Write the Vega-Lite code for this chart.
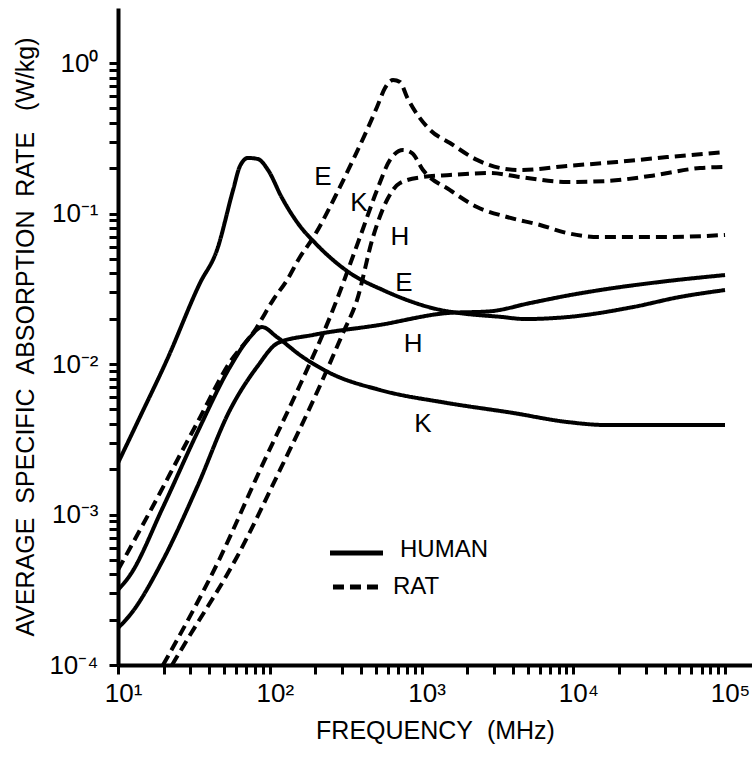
{
  "$schema": "https://vega.github.io/schema/vega-lite/v6.json",
  "width": 634,
  "height": 657,
  "autosize": {"type": "none"},
  "padding": {"left": 118, "top": 8, "right": 0, "bottom": 92},
  "background": "white",
  "config": {
    "view": {"stroke": null},
    "axis": {
      "grid": false,
      "ticks": true,
      "domainColor": "black",
      "domainWidth": 4,
      "tickColor": "black",
      "tickOpacity": 1,
      "labelColor": "black",
      "titleColor": "black",
      "labelFont": "Liberation Sans",
      "titleFont": "Liberation Sans",
      "labelFontSize": 26,
      "titleFontSize": 25,
      "titleFontWeight": "normal",
      "labelOverlap": false,
      "labelBound": false,
      "labelFlush": false
    }
  },
  "datasets": {
    "curves": [
      {"curve": "hE", "species": "HUMAN", "freq": 10, "sar": 0.0022},
      {"curve": "hE", "species": "HUMAN", "freq": 13.96, "sar": 0.00445},
      {"curve": "hE", "species": "HUMAN", "freq": 21.0, "sar": 0.01063},
      {"curve": "hE", "species": "HUMAN", "freq": 34.7, "sar": 0.0345},
      {"curve": "hE", "species": "HUMAN", "freq": 44.9, "sar": 0.0572},
      {"curve": "hE", "species": "HUMAN", "freq": 57.3, "sar": 0.143},
      {"curve": "hE", "species": "HUMAN", "freq": 63.7, "sar": 0.207},
      {"curve": "hE", "species": "HUMAN", "freq": 71.9, "sar": 0.234},
      {"curve": "hE", "species": "HUMAN", "freq": 83.7, "sar": 0.23},
      {"curve": "hE", "species": "HUMAN", "freq": 97.4, "sar": 0.1945},
      {"curve": "hE", "species": "HUMAN", "freq": 120.4, "sar": 0.127},
      {"curve": "hE", "species": "HUMAN", "freq": 158, "sar": 0.0826},
      {"curve": "hE", "species": "HUMAN", "freq": 199, "sar": 0.0637},
      {"curve": "hE", "species": "HUMAN", "freq": 338, "sar": 0.0402},
      {"curve": "hE", "species": "HUMAN", "freq": 557, "sar": 0.031},
      {"curve": "hE", "species": "HUMAN", "freq": 1324, "sar": 0.0229},
      {"curve": "hE", "species": "HUMAN", "freq": 1995, "sar": 0.0215},
      {"curve": "hE", "species": "HUMAN", "freq": 3291, "sar": 0.0206},
      {"curve": "hE", "species": "HUMAN", "freq": 4810, "sar": 0.0199},
      {"curve": "hE", "species": "HUMAN", "freq": 9094, "sar": 0.0205},
      {"curve": "hE", "species": "HUMAN", "freq": 24750, "sar": 0.0239},
      {"curve": "hE", "species": "HUMAN", "freq": 50520, "sar": 0.0279},
      {"curve": "hE", "species": "HUMAN", "freq": 100000, "sar": 0.031},

      {"curve": "hH", "species": "HUMAN", "freq": 10, "sar": 0.000176},
      {"curve": "hH", "species": "HUMAN", "freq": 12.0, "sar": 0.000215},
      {"curve": "hH", "species": "HUMAN", "freq": 19.8, "sar": 0.000499},
      {"curve": "hH", "species": "HUMAN", "freq": 33.2, "sar": 0.00152},
      {"curve": "hH", "species": "HUMAN", "freq": 54.7, "sar": 0.00495},
      {"curve": "hH", "species": "HUMAN", "freq": 82.4, "sar": 0.00955},
      {"curve": "hH", "species": "HUMAN", "freq": 113.3, "sar": 0.0138},
      {"curve": "hH", "species": "HUMAN", "freq": 192.8, "sar": 0.0156},
      {"curve": "hH", "species": "HUMAN", "freq": 532.6, "sar": 0.0182},
      {"curve": "hH", "species": "HUMAN", "freq": 1472, "sar": 0.0218},
      {"curve": "hH", "species": "HUMAN", "freq": 2828, "sar": 0.0224},
      {"curve": "hH", "species": "HUMAN", "freq": 5188, "sar": 0.0254},
      {"curve": "hH", "species": "HUMAN", "freq": 9519, "sar": 0.0287},
      {"curve": "hH", "species": "HUMAN", "freq": 15010, "sar": 0.031},
      {"curve": "hH", "species": "HUMAN", "freq": 37290, "sar": 0.0351},
      {"curve": "hH", "species": "HUMAN", "freq": 100000, "sar": 0.039},

      {"curve": "hK", "species": "HUMAN", "freq": 10, "sar": 0.000315},
      {"curve": "hK", "species": "HUMAN", "freq": 12.0, "sar": 0.000395},
      {"curve": "hK", "species": "HUMAN", "freq": 19.8, "sar": 0.00112},
      {"curve": "hK", "species": "HUMAN", "freq": 33.2, "sar": 0.00348},
      {"curve": "hK", "species": "HUMAN", "freq": 54.7, "sar": 0.00955},
      {"curve": "hK", "species": "HUMAN", "freq": 74.1, "sar": 0.0151},
      {"curve": "hK", "species": "HUMAN", "freq": 88.9, "sar": 0.0176},
      {"curve": "hK", "species": "HUMAN", "freq": 111.6, "sar": 0.0151},
      {"curve": "hK", "species": "HUMAN", "freq": 165.6, "sar": 0.0111},
      {"curve": "hK", "species": "HUMAN", "freq": 249.5, "sar": 0.00871},
      {"curve": "hK", "species": "HUMAN", "freq": 532.6, "sar": 0.00672},
      {"curve": "hK", "species": "HUMAN", "freq": 1472, "sar": 0.00551},
      {"curve": "hK", "species": "HUMAN", "freq": 4009, "sar": 0.00473},
      {"curve": "hK", "species": "HUMAN", "freq": 9094, "sar": 0.00412},
      {"curve": "hK", "species": "HUMAN", "freq": 16690, "sar": 0.00393},
      {"curve": "hK", "species": "HUMAN", "freq": 100000, "sar": 0.00393},

      {"curve": "rE", "species": "RAT", "freq": 10, "sar": 0.000428},
      {"curve": "rE", "species": "RAT", "freq": 13.96, "sar": 0.000789},
      {"curve": "rE", "species": "RAT", "freq": 18.9, "sar": 0.00139},
      {"curve": "rE", "species": "RAT", "freq": 25.6, "sar": 0.002485},
      {"curve": "rE", "species": "RAT", "freq": 33.2, "sar": 0.004055},
      {"curve": "rE", "species": "RAT", "freq": 54.7, "sar": 0.0103},
      {"curve": "rE", "species": "RAT", "freq": 80.0, "sar": 0.0168},
      {"curve": "rE", "species": "RAT", "freq": 105.1, "sar": 0.0266},
      {"curve": "rE", "species": "RAT", "freq": 129.9, "sar": 0.0361},
      {"curve": "rE", "species": "RAT", "freq": 158.2, "sar": 0.0514},
      {"curve": "rE", "species": "RAT", "freq": 192.8, "sar": 0.0688},
      {"curve": "rE", "species": "RAT", "freq": 277.5, "sar": 0.137},
      {"curve": "rE", "species": "RAT", "freq": 353.8, "sar": 0.227},
      {"curve": "rE", "species": "RAT", "freq": 437.4, "sar": 0.359},
      {"curve": "rE", "species": "RAT", "freq": 509.1, "sar": 0.51},
      {"curve": "rE", "species": "RAT", "freq": 574.8, "sar": 0.682},
      {"curve": "rE", "species": "RAT", "freq": 649.1, "sar": 0.771},
      {"curve": "rE", "species": "RAT", "freq": 721.7, "sar": 0.748},
      {"curve": "rE", "species": "RAT", "freq": 802.6, "sar": 0.594},
      {"curve": "rE", "species": "RAT", "freq": 1138, "sar": 0.359},
      {"curve": "rE", "species": "RAT", "freq": 1541, "sar": 0.294},
      {"curve": "rE", "species": "RAT", "freq": 2321, "sar": 0.227},
      {"curve": "rE", "species": "RAT", "freq": 3291, "sar": 0.2006},
      {"curve": "rE", "species": "RAT", "freq": 4458, "sar": 0.1945},
      {"curve": "rE", "species": "RAT", "freq": 9094, "sar": 0.207},
      {"curve": "rE", "species": "RAT", "freq": 19420, "sar": 0.22},
      {"curve": "rE", "species": "RAT", "freq": 41490, "sar": 0.237},
      {"curve": "rE", "species": "RAT", "freq": 100000, "sar": 0.256},

      {"curve": "rK", "species": "RAT", "freq": 19.8, "sar": 0.0001},
      {"curve": "rK", "species": "RAT", "freq": 24.5, "sar": 0.0001466},
      {"curve": "rK", "species": "RAT", "freq": 47.0, "sar": 0.000514},
      {"curve": "rK", "species": "RAT", "freq": 86.3, "sar": 0.001976},
      {"curve": "rK", "species": "RAT", "freq": 158.2, "sar": 0.00725},
      {"curve": "rK", "species": "RAT", "freq": 249.5, "sar": 0.0205},
      {"curve": "rK", "species": "RAT", "freq": 393.3, "sar": 0.0698},
      {"curve": "rK", "species": "RAT", "freq": 509.1, "sar": 0.143},
      {"curve": "rK", "species": "RAT", "freq": 620, "sar": 0.227},
      {"curve": "rK", "species": "RAT", "freq": 755, "sar": 0.264},
      {"curve": "rK", "species": "RAT", "freq": 866, "sar": 0.252},
      {"curve": "rK", "species": "RAT", "freq": 1023, "sar": 0.1945},
      {"curve": "rK", "species": "RAT", "freq": 1541, "sar": 0.143},
      {"curve": "rK", "species": "RAT", "freq": 2321, "sar": 0.1105},
      {"curve": "rK", "species": "RAT", "freq": 3659, "sar": 0.0948},
      {"curve": "rK", "species": "RAT", "freq": 6039, "sar": 0.0839},
      {"curve": "rK", "species": "RAT", "freq": 9094, "sar": 0.0742},
      {"curve": "rK", "species": "RAT", "freq": 15010, "sar": 0.0698},
      {"curve": "rK", "species": "RAT", "freq": 41490, "sar": 0.0698},
      {"curve": "rK", "species": "RAT", "freq": 100000, "sar": 0.072},

      {"curve": "rH", "species": "RAT", "freq": 22.7, "sar": 0.0001},
      {"curve": "rH", "species": "RAT", "freq": 28.5, "sar": 0.0001466},
      {"curve": "rH", "species": "RAT", "freq": 60.8, "sar": 0.000522},
      {"curve": "rH", "species": "RAT", "freq": 116.8, "sar": 0.001976},
      {"curve": "rH", "species": "RAT", "freq": 208, "sar": 0.00672},
      {"curve": "rH", "species": "RAT", "freq": 303.9, "sar": 0.0161},
      {"curve": "rH", "species": "RAT", "freq": 375.8, "sar": 0.0266},
      {"curve": "rH", "species": "RAT", "freq": 479, "sar": 0.0698},
      {"curve": "rH", "species": "RAT", "freq": 592.5, "sar": 0.123},
      {"curve": "rH", "species": "RAT", "freq": 721.7, "sar": 0.1595},
      {"curve": "rH", "species": "RAT", "freq": 1023, "sar": 0.1748},
      {"curve": "rH", "species": "RAT", "freq": 1541, "sar": 0.1803},
      {"curve": "rH", "species": "RAT", "freq": 2828, "sar": 0.1859},
      {"curve": "rH", "species": "RAT", "freq": 4458, "sar": 0.1748},
      {"curve": "rH", "species": "RAT", "freq": 9094, "sar": 0.1619},
      {"curve": "rH", "species": "RAT", "freq": 16690, "sar": 0.1644},
      {"curve": "rH", "species": "RAT", "freq": 32050, "sar": 0.1775},
      {"curve": "rH", "species": "RAT", "freq": 68440, "sar": 0.2006},
      {"curve": "rH", "species": "RAT", "freq": 100000, "sar": 0.2037}
    ],
    "labels": [
      {"text": "E", "freq": 224, "sar": 0.175},
      {"text": "K", "freq": 387, "sar": 0.1175},
      {"text": "H", "freq": 721, "sar": 0.0698},
      {"text": "E", "freq": 767, "sar": 0.0345},
      {"text": "H", "freq": 880, "sar": 0.01358},
      {"text": "K", "freq": 1023, "sar": 0.00399}
    ],
    "legendRules": [
      {"species": "HUMAN", "freq": 249.5, "freq2": 557.5, "sar": 0.000555},
      {"species": "RAT", "freq": 261, "freq2": 557.5, "sar": 0.00033}
    ],
    "legendText": [
      {"text": "HUMAN", "freq": 722, "sar": 0.00058},
      {"text": "RAT", "freq": 649, "sar": 0.00033}
    ]
  },
  "layer": [
    {
      "data": {"name": "curves"},
      "mark": {"type": "line", "color": "black", "strokeWidth": 4, "interpolate": "monotone", "clip": true},
      "encoding": {
        "x": {
          "field": "freq", "type": "quantitative",
          "scale": {"type": "log", "domain": [10, 150600], "nice": false},
          "axis": {
            "title": "FREQUENCY\u00a0\u00a0(MHz)",
            "values": [10,20,30,40,50,60,70,80,90,100,200,300,400,500,600,700,800,900,1000,2000,3000,4000,5000,6000,7000,8000,9000,10000,20000,30000,40000,50000,60000,70000,80000,90000,100000],
            "labelExpr": "abs(log(datum.value)/LN10 - round(log(datum.value)/LN10)) < 0.001 ? ['10¹','10²','10³','10⁴','10⁵'][round(log(datum.value)/LN10)-1] : ''",
            "tickSize": 9,
            "tickWidth": 3,
            "ticks": true,
            "labelPadding": 6,
            "labelOffset": 5,
            "titlePadding": 12
          }
        },
        "y": {
          "field": "sar", "type": "quantitative",
          "scale": {"type": "log", "domain": [0.0001, 2.32], "nice": false},
          "axis": {
            "title": "AVERAGE\u00a0\u00a0SPECIFIC\u00a0\u00a0ABSORPTION\u00a0\u00a0RATE\u00a0\u00a0\u00a0(W/kg)",
            "values": [0.0001,0.0002,0.0003,0.0004,0.0005,0.0006,0.0007,0.0008,0.0009,0.001,0.002,0.003,0.004,0.005,0.006,0.007,0.008,0.009,0.01,0.02,0.03,0.04,0.05,0.06,0.07,0.08,0.09,0.1,0.2,0.3,0.4,0.5,0.6,0.7,0.8,0.9,1],
            "labelExpr": "abs(log(datum.value)/LN10 - round(log(datum.value)/LN10)) < 0.001 ? ['10⁻⁴','10⁻³','10⁻²','10⁻¹','10⁰'][round(log(datum.value)/LN10)+4] : ''",
            "tickSize": 9,
            "tickWidth": 3,
            "ticks": true,
            "labelPadding": 11,
            "titlePadding": 10
          }
        },
        "detail": {"field": "curve", "type": "nominal"},
        "strokeDash": {
          "field": "species", "type": "nominal",
          "scale": {"domain": ["HUMAN", "RAT"], "range": [[1, 0], [11, 6]]},
          "legend": null
        }
      }
    },
    {
      "data": {"name": "labels"},
      "mark": {"type": "text", "font": "Liberation Sans", "fontSize": 26, "color": "black", "align": "center", "baseline": "middle"},
      "encoding": {
        "x": {"field": "freq", "type": "quantitative"},
        "y": {"field": "sar", "type": "quantitative"},
        "text": {"field": "text", "type": "nominal"}
      }
    },
    {
      "data": {"name": "legendRules"},
      "mark": {"type": "rule", "color": "black", "strokeWidth": 5},
      "encoding": {
        "x": {"field": "freq", "type": "quantitative"},
        "x2": {"field": "freq2"},
        "y": {"field": "sar", "type": "quantitative"},
        "strokeDash": {"field": "species", "type": "nominal", "legend": null}
      }
    },
    {
      "data": {"name": "legendText"},
      "mark": {"type": "text", "font": "Liberation Sans", "fontSize": 24, "color": "black", "align": "left", "baseline": "middle"},
      "encoding": {
        "x": {"field": "freq", "type": "quantitative"},
        "y": {"field": "sar", "type": "quantitative"},
        "text": {"field": "text", "type": "nominal"}
      }
    }
  ]
}
